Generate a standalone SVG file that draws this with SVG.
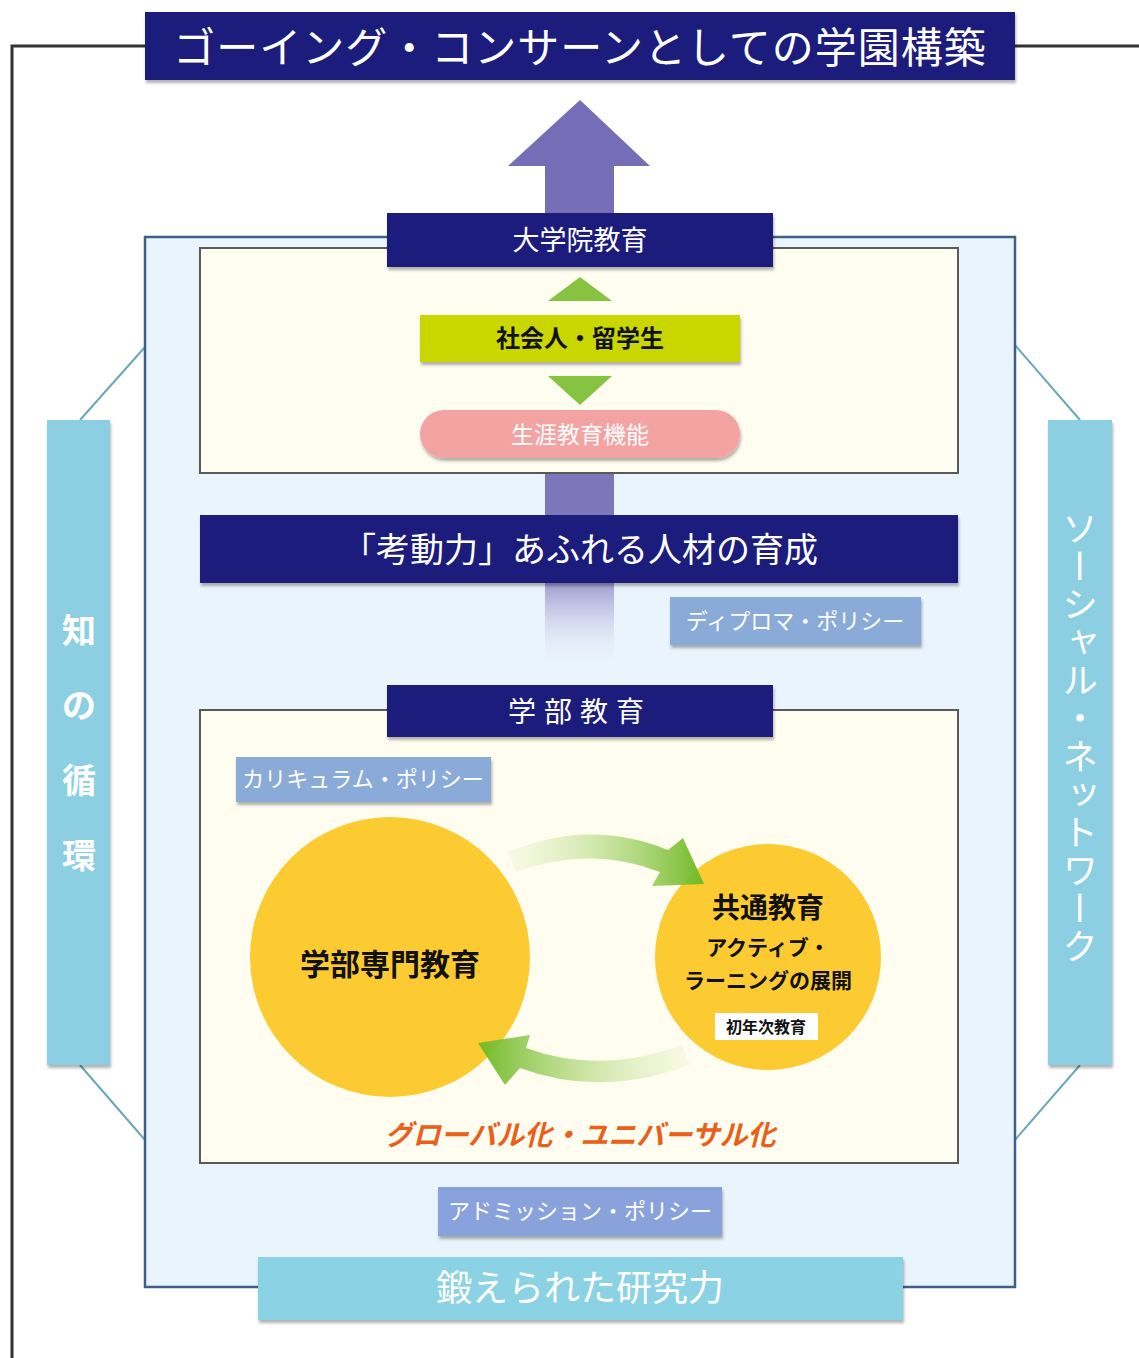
<svg xmlns="http://www.w3.org/2000/svg" width="1139" height="1358" viewBox="0 0 1139 1358">
<defs>
<style>
.navy{fill:#1b1b7c}
.wt{fill:#ffffff;font-family:"Noto Sans CJK JP","Noto Sans",sans-serif;text-anchor:middle}
.bk{fill:#111111;font-family:"Noto Sans CJK JP","Noto Sans",sans-serif;text-anchor:middle;font-weight:bold}
.inner{fill:#fffdf0;stroke:#5a5a5a;stroke-width:2}
.pol{fill:#8aaad8}
.side{fill:#8ccfe3}
.thin{stroke:#6aa8b8;stroke-width:2;fill:none}
</style>
<filter id="sh" x="-10%" y="-10%" width="120%" height="130%">
<feDropShadow dx="1" dy="3" stdDeviation="1.5" flood-color="#000" flood-opacity="0.3"/>
</filter>
<linearGradient id="shaft" gradientUnits="userSpaceOnUse" x1="0" y1="165" x2="0" y2="668">
<stop offset="0" stop-color="#756db6"/>
<stop offset="0.8" stop-color="#8078bc"/>
<stop offset="1" stop-color="#eaf4fc" stop-opacity="0"/>
</linearGradient>
<linearGradient id="g1" gradientUnits="userSpaceOnUse" x1="508" y1="0" x2="700" y2="0">
<stop offset="0" stop-color="#e8f2c8" stop-opacity="0.3"/>
<stop offset="1" stop-color="#74bb2a"/>
</linearGradient>
<linearGradient id="g2" gradientUnits="userSpaceOnUse" x1="690" y1="0" x2="480" y2="0">
<stop offset="0" stop-color="#e8f2c8" stop-opacity="0.3"/>
<stop offset="1" stop-color="#74bb2a"/>
</linearGradient>
</defs>
<rect width="1139" height="1358" fill="#ffffff"/>

<g id="connectors">
<polyline points="145,46 12,46 12,1358" fill="none" stroke="#333" stroke-width="3"/>
<line x1="1015" y1="46" x2="1139" y2="46" stroke="#333" stroke-width="3"/>
<line class="thin" x1="80" y1="420" x2="145" y2="347"/>
<line class="thin" x1="80" y1="1065" x2="145" y2="1140"/>
<line class="thin" x1="1080" y1="420" x2="1015" y2="345"/>
<line class="thin" x1="1080" y1="1065" x2="1015" y2="1140"/>
</g>

<g id="title">
<rect class="navy" x="145" y="12" width="870" height="68" filter="url(#sh)"/>
<text class="wt" x="580" y="63" font-size="42" letter-spacing="1">ゴーイング・コンサーンとしての学園構築</text>
</g>

<g id="frame">
<rect x="145" y="237" width="870" height="1050" fill="#eaf4fc" stroke="#3d6088" stroke-width="2.5"/>
</g>

<g id="big-arrow">
<polygon points="580,100 508,166 650,166" fill="#756db6"/>
<rect x="545" y="165" width="69" height="503" fill="url(#shaft)"/>
</g>

<g id="grad-box">
<rect class="inner" x="200" y="248" width="758" height="225"/>
</g>

<g id="grad-label">
<rect class="navy" x="387" y="213" width="386" height="54" filter="url(#sh)"/>
<text class="wt" x="580" y="250" font-size="27">大学院教育</text>
</g>

<g id="green-up">
<polygon points="580,277 548,301 612,301" fill="#86c340"/>
</g>

<g id="shakaijin">
<rect x="420" y="315" width="320" height="47" fill="#c9d600" filter="url(#sh)"/>
<text class="bk" x="580" y="347" font-size="24">社会人・留学生</text>
</g>

<g id="green-down">
<polygon points="548,376 612,376 580,405" fill="#86c340"/>
</g>

<g id="shogai">
<rect x="420" y="410" width="320" height="48" rx="24" fill="#f4a3a3" filter="url(#sh)"/>
<text class="wt" x="580" y="443" font-size="23">生涯教育機能</text>
</g>

<g id="kodoryoku">
<rect class="navy" x="200" y="515" width="758" height="68" filter="url(#sh)"/>
<text class="wt" x="580" y="562" font-size="34">「考動力」あふれる人材の育成</text>
</g>

<g id="diploma">
<rect class="pol" x="670" y="597" width="251" height="48" filter="url(#sh)"/>
<text class="wt" x="795" y="629" font-size="22">ディプロマ・ポリシー</text>
</g>

<g id="ug-box">
<rect class="inner" x="200" y="710" width="758" height="453"/>
</g>

<g id="ug-label">
<rect class="navy" x="387" y="685" width="386" height="52" filter="url(#sh)"/>
<text class="wt" x="580" y="722" font-size="28" letter-spacing="8">学部教育</text>
</g>

<g id="curriculum">
<rect class="pol" x="236" y="757" width="255" height="45" filter="url(#sh)"/>
<text class="wt" x="363" y="787" font-size="22">カリキュラム・ポリシー</text>
</g>

<g id="senmon">
<circle cx="390" cy="957" r="140" fill="#fccb32"/>
<text class="bk" x="390" y="975" font-size="30">学部専門教育</text>
</g>

<g id="kyotsu">
<circle cx="768" cy="957" r="113" fill="#fccb32"/>
<text class="bk" x="768" y="918" font-size="28">共通教育</text>
<text class="bk" x="768" y="955" font-size="21">アクティブ・</text>
<text class="bk" x="768" y="988" font-size="21">ラーニングの展開</text>
<rect x="715" y="1013" width="103" height="27" fill="#ffffff"/>
<text class="bk" x="766" y="1033" font-size="16">初年次教育</text>
</g>

<g id="cycle-arrows">
<path d="M508,852 Q590,818 668,850 L683,838 L704,884 L652,886 L660,872 Q590,845 516,872 Z" fill="url(#g1)"/>
<path d="M690,1065 Q600,1098 520,1068 L505,1085 L478,1043 L530,1035 L526,1048 Q600,1075 682,1045 Z" fill="url(#g2)"/>
</g>

<g id="global">
<text x="580" y="1145" font-family="'Noto Sans CJK JP','Noto Sans',sans-serif" font-size="28" font-weight="bold" font-style="italic" fill="#e8601a" text-anchor="middle">グローバル化・ユニバーサル化</text>
</g>

<g id="admission">
<rect x="438" y="1187" width="284" height="49" fill="#8aa2dc" filter="url(#sh)"/>
<text class="wt" x="580" y="1219" font-size="22">アドミッション・ポリシー</text>
</g>

<g id="kenkyu">
<rect x="258" y="1257" width="645" height="63" fill="#8ad2e4" filter="url(#sh)"/>
<text class="wt" x="580" y="1301" font-size="36">鍛えられた研究力</text>
</g>

<g id="chi-no-junkan">
<rect class="side" x="47" y="420" width="63" height="645" filter="url(#sh)"/>
<text class="wt" x="79" y="643" font-size="34" font-weight="bold">知</text>
<text class="wt" x="79" y="718" font-size="34" font-weight="bold">の</text>
<text class="wt" x="79" y="793" font-size="34" font-weight="bold">循</text>
<text class="wt" x="79" y="868" font-size="34" font-weight="bold">環</text>
</g>

<g id="social-network">
<rect class="side" x="1048" y="420" width="64" height="645" filter="url(#sh)"/>
<text x="1080" y="510" font-family="'Noto Sans CJK JP',sans-serif" font-size="36" fill="#ffffff" style="writing-mode:vertical-rl" letter-spacing="2">ソーシャル・ネットワーク</text>
</g>
</svg>
